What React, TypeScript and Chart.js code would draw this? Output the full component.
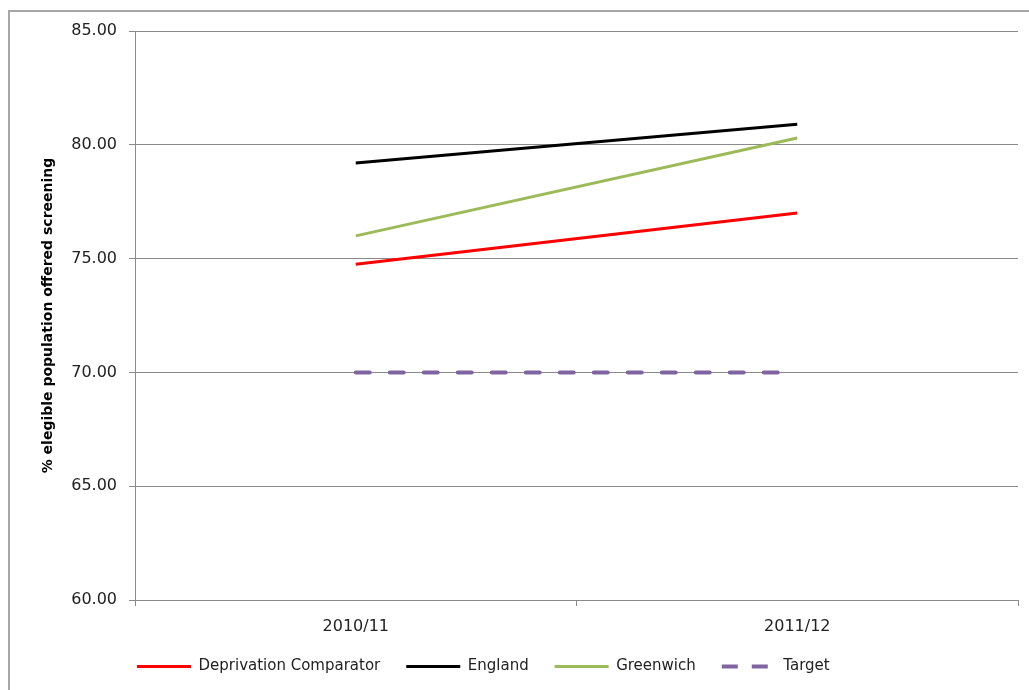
import React, { useEffect, useRef } from 'react';
import { Chart, registerables } from 'chart.js';

Chart.register(...registerables);

const categories = ['2010/11', '2011/12'];
const deprivationComparator = [74.75, 77.0];
const england = [79.2, 80.9];
const greenwich = [76.0, 80.3];
const target = [70, 70];

const yMin = 60;
const yMax = 85;
const yStep = 5;
const yTitle = '% elegible population offered screening';

const FONT = "'DejaVu Sans', sans-serif";

const legendShift = {
  id: 'legendShift',
  afterLayout(chart: any) {
    if (chart.legend) {
      chart.legend.left = 111;
    }
  },
};

export default function App() {
  const ref = useRef<HTMLCanvasElement | null>(null);

  useEffect(() => {
    if (!ref.current) return;
    const chart = new Chart(ref.current, {
      type: 'line',
      data: {
        labels: categories,
        datasets: [
          {
            label: 'Deprivation Comparator',
            data: deprivationComparator,
            borderColor: '#FF0000',
            backgroundColor: '#FF0000',
            borderWidth: 3,
            pointRadius: 0,
          },
          {
            label: 'England',
            data: england,
            borderColor: '#000000',
            backgroundColor: '#000000',
            borderWidth: 3,
            pointRadius: 0,
          },
          {
            label: 'Greenwich',
            data: greenwich,
            borderColor: '#9BBB59',
            backgroundColor: '#9BBB59',
            borderWidth: 3,
            pointRadius: 0,
          },
          {
            label: 'Target',
            data: target,
            borderColor: '#8064A2',
            backgroundColor: '#8064A2',
            borderWidth: 4,
            borderDash: [14, 20],
            borderCapStyle: 'round',
            pointRadius: 0,
          },
        ],
      },
      options: {
        responsive: false,
        animation: false,
        layout: { padding: { left: 0, top: 31, right: 11, bottom: 6 } },
        plugins: {
          tooltip: { enabled: false },
          legend: {
            position: 'bottom',
            align: 'start',
            labels: {
              usePointStyle: true,
              pointStyle: 'line',
              pointStyleWidth: 54,
              boxWidth: 54,
              padding: 26,
              color: '#222',
              font: { family: FONT, size: 15 },
              generateLabels: (c: any) =>
                c.data.datasets.map((ds: any, i: number) => ({
                  text: ds.label,
                  fillStyle: ds.borderColor,
                  strokeStyle: ds.borderColor,
                  lineWidth: ds.borderWidth,
                  lineDash: ds.borderDash ? [16, 14] : [],
                  lineCap: 'butt',
                  pointStyle: 'line',
                  hidden: false,
                  datasetIndex: i,
                  fontColor: '#222',
                })),
            },
          },
        },
        scales: {
          x: {
            offset: true,
            afterFit: (s: any) => {
              s.height = 33;
            },
            grid: {
              display: true,
              offset: true,
              drawOnChartArea: false,
              drawTicks: true,
              tickLength: 6,
              color: '#8a8a8a',
            },
            border: { display: true, color: '#8a8a8a', width: 1 },
            ticks: {
              color: '#222',
              padding: 11,
              font: { family: FONT, size: 16 },
              maxRotation: 0,
            },
          },
          y: {
            min: yMin,
            max: yMax,
            afterFit: (s: any) => {
              s.width = 135;
            },
            grid: {
              color: '#8a8a8a',
              drawTicks: true,
              tickLength: 6,
            },
            border: { display: true, color: '#8a8a8a', width: 1 },
            ticks: {
              stepSize: yStep,
              color: '#222',
              padding: 12,
              font: { family: FONT, size: 16 },
              callback: (v: any) => Number(v).toFixed(2),
            },
            title: {
              display: true,
              text: yTitle,
              color: '#000',
              padding: { top: 40, bottom: 0 },
              font: { family: FONT, size: 14, weight: 'bold' },
            },
          },
        },
      },
      plugins: [legendShift],
    } as any);
    return () => chart.destroy();
  }, []);

  return (
    <div>
      <div
        style={{
          position: 'absolute',
          left: 8,
          top: 10,
          width: 1100,
          height: 800,
          border: '2px solid #a6a6a6',
          boxSizing: 'border-box',
          background: '#fff',
        }}
      />
      <canvas
        ref={ref}
        width={1029}
        height={690}
        style={{ position: 'absolute', left: 0, top: 0, width: 1029, height: 690 }}
      />
    </div>
  );
}
